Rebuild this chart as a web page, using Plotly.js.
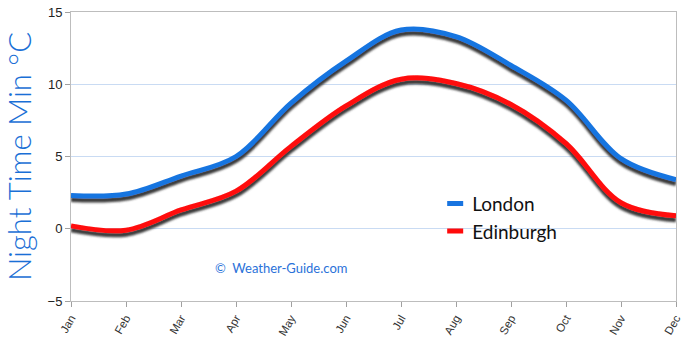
<!DOCTYPE html>
<html>
<head>
<meta charset="utf-8">
<script src="https://cdn.plot.ly/plotly-3.0.1.min.js"></script>
<style>
html,body{margin:0;padding:0;background:#fff;}
#chart{width:690px;height:340px;}
</style>
</head>
<body>
<div id="chart"></div>
<script>
const months = ["Jan","Feb","Mar","Apr","May","Jun","Jul","Aug","Sep","Oct","Nov","Dec"];
const london = [2.3, 2.4, 3.65, 5.0, 8.7, 11.6, 13.75, 13.3, 11.3, 8.9, 4.85, 3.4];
const edinburgh = [0.2, -0.1, 1.3, 2.6, 5.7, 8.5, 10.35, 10.05, 8.6, 5.9, 1.8, 0.9];
const seriesNames = ["London", "Edinburgh"];
const yTicks = [-5, 0, 5, 10, 15];

const traces = [
  {x: months, y: london, name: seriesNames[0], type: "scatter", mode: "lines",
   line: {color: "#1874e0", width: 5, shape: "spline", smoothing: 1}},
  {x: months, y: edinburgh, name: seriesNames[1], type: "scatter", mode: "lines",
   line: {color: "#ff0a0a", width: 5, shape: "spline", smoothing: 1}}
];

const layout = {
  width: 690, height: 340,
  margin: {l: 71, r: 14, t: 12, b: 39},
  paper_bgcolor: "#fff", plot_bgcolor: "#fff",
  showlegend: true,
  legend: {x: 0.597, y: 0.403, xanchor: "left", yanchor: "top",
           font: {family: "Lato, sans-serif", size: 19, color: "#111"},
           bgcolor: "rgba(0,0,0,0)", tracegroupgap: 10, itemwidth: 30},
  xaxis: {type: "category", range: [0, 11], showgrid: false,
          showline: true, linecolor: "#bdbdbd", linewidth: 1, mirror: true,
          ticks: "outside", ticklen: 5, tickcolor: "#a0a0a0",
          tickangle: -60, tickfont: {family: "Liberation Sans, sans-serif", size: 11.5, color: "#333"}},
  yaxis: {range: [-5, 15], tickvals: yTicks, showgrid: true, gridcolor: "#c9dbf3",
          zeroline: false, showline: true, linecolor: "#bdbdbd", linewidth: 1, mirror: true,
          ticks: "outside", ticklen: 5, tickcolor: "#a0a0a0",
          tickfont: {family: "Liberation Sans, sans-serif", size: 13, color: "#222"},
          title: {text: "Night Time Min °C", standoff: 12,
                  font: {family: "Lato, sans-serif", size: 31, weight: 300, color: "#1a6fd6"}}},
  annotations: [{xref: "paper", yref: "paper", x: 0.347, y: 0.08, showarrow: false,
                 text: "©  Weather-Guide.com",
                 font: {family: "Lato, sans-serif", size: 13, color: "#2a72d9"}}]
};

Plotly.newPlot("chart", traces, layout, {displayModeBar: false, staticPlot: true}).then(function(gd){
  const svg = gd.querySelector(".main-svg");
  const ns = "http://www.w3.org/2000/svg";
  let defs = svg.querySelector("defs");
  if (!defs) { defs = document.createElementNS(ns, "defs"); svg.insertBefore(defs, svg.firstChild); }
  const f = document.createElementNS(ns, "filter");
  f.setAttribute("id", "lineShadow");
  f.setAttribute("x", "-10%"); f.setAttribute("y", "-20%");
  f.setAttribute("width", "120%"); f.setAttribute("height", "150%");
  f.innerHTML =
    '<feGaussianBlur in="SourceAlpha" stdDeviation="1.3" result="b"/>' +
    '<feOffset in="b" dx="0" dy="3.5" result="o"/>' +
    '<feFlood flood-color="#3a3a3a" flood-opacity="1" result="c"/>' +
    '<feComposite in="c" in2="o" operator="in" result="s"/>' +
    '<feMerge><feMergeNode in="s"/><feMergeNode in="SourceGraphic"/></feMerge>';
  defs.appendChild(f);
  gd.querySelectorAll(".scatterlayer .trace path.js-line").forEach(function(p){
    p.setAttribute("filter", "url(#lineShadow)");
  });
  // shorter legend line symbols, as in the reference
  gd.querySelectorAll(".legend .legendlines path").forEach(function(p){
    p.setAttribute("d", "M15,0h16");
  });
});
</script>
</body>
</html>
